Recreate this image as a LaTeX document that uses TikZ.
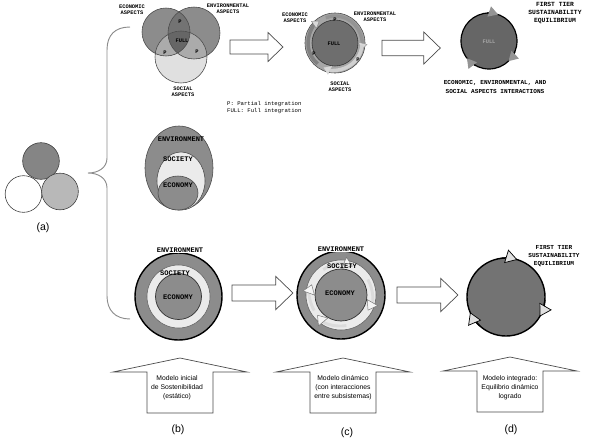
\documentclass[tikz,border=0pt]{standalone}
\usepackage{fontspec}
\setmainfont{Liberation Sans}
\setmonofont{Liberation Mono}
\usetikzlibrary{arrows.meta,calc}

\tikzset{
  ball/.style={circle, draw=black!75, line width=0.5pt, minimum size=1.1cm, inner sep=0pt},
  tag/.style={font=\ttfamily\bfseries\fontsize{4.6}{5.4}\selectfont, align=center, inner sep=0pt},
  bigtag/.style={font=\ttfamily\bfseries\fontsize{6}{7}\selectfont, inner sep=0pt},
  note/.style={font=\ttfamily\fontsize{4.8}{6}\selectfont, align=left, anchor=west, inner sep=0pt},
  caption/.style={font=\fontsize{5.8}{7.6}\selectfont, align=center, inner sep=0pt},
  letter/.style={font=\fontsize{9}{10}\selectfont, inner sep=0pt},
  rim/.style={draw=black!70, line width=0.5pt},
  blockarrow/.style={draw=black!70, fill=white, line width=0.6pt},
  swirl/.style={line width=3pt, -{Triangle[length=6pt, width=8pt, fill=black!15, line width=0.3pt]}},
  rarrow/.pic={\draw[blockarrow] (0,-7) -- (38,-7) -- (38,-14.5) -- (53,0) -- (38,14.5) -- (38,7) -- (0,7) -- cycle;},
  uarrow/.pic={\draw[blockarrow] (0,0) -- (67,14) -- (33,14) -- (33,55) -- (-33,55) -- (-33,14) -- (-67,14) -- cycle;}
}

\begin{document}
\begin{tikzpicture}[x=0.03cm, y=-0.03cm]
  \useasboundingbox (0,0) rectangle (590,443);

  % (a) three subsystems
  \node[ball, fill=black!48] (ballTop) at (41,161) {};
  \node[ball, fill=white] (ballLeft) at (23.5,194) {};
  \node[ball, fill=black!28] (ballRight) at (60,191.5) {};
  \node[letter] (labA) at (43,228) {(a)};

  % brace
  \draw[black!45, line width=0.8pt] (130,27) .. controls (115,27) and (107,35) .. (107,50) -- (107,158)
    .. controls (107,168) and (98,173) .. (88,173) .. controls (98,173) and (107,178) .. (107,188)
    -- (107,296) .. controls (107,310) and (115,319) .. (130,319);

  % row 1: static Venn diagram
  \coordinate (ecoV) at (166,32);
  \coordinate (envV) at (194,33);
  \coordinate (socV) at (181,57);
  \fill[black!12] (socV) circle (26);
  \fill[black!45] (ecoV) circle (24);
  \fill[black!45] (envV) circle (26);
  \begin{scope}
    \clip (ecoV) circle (24);
    \fill[black!55] (envV) circle (26);
  \end{scope}
  \begin{scope}
    \clip (socV) circle (26);
    \fill[black!33] (ecoV) circle (24);
    \fill[black!33] (envV) circle (26);
    \clip (ecoV) circle (24);
    \fill[black!60] (envV) circle (26);
  \end{scope}
  \draw[rim] (socV) circle (26) (ecoV) circle (24) (envV) circle (26);
  \node[tag] (ecoTxt) at (132,10) {ECONOMIC\\ASPECTS};
  \node[tag] (envTxt) at (228,9) {ENVIRONMENTAL\\ASPECTS};
  \node[tag] (socTxt) at (183,92) {SOCIAL\\ASPECTS};
  \node[tag] (pTop) at (180,22) {P};
  \node[tag] (pLeft) at (165,53) {P};
  \node[tag] (pRight) at (197,52) {P};
  \node[tag] (fullV) at (182,41) {FULL};
  \node[note] (legend) at (227,108) {P: Partial integration\\FULL: Full integration};

  \pic at (230,47) {rarrow};

  % row 1: dynamic Venn diagram
  \coordinate (dynT) at (335,43);
  \filldraw[fill=black!35, rim] (dynT) circle (30);
  \filldraw[fill=black!57, draw=black!80, line width=0.5pt] (dynT) circle (23);
  \draw[swirl, black!50] ($(dynT)+(130:27)$) arc[start angle=130, end angle=235, radius=27];
  \draw[swirl, black!42] ($(dynT)+(250:27)$) arc[start angle=250, end angle=375, radius=27];
  \draw[swirl, black!18] ($(dynT)+(5:27)$) arc[start angle=5, end angle=115, radius=27];
  \node[tag] (fullD) at (334,44) {FULL};
  \node[tag] (pD1) at (335,20) {P};
  \node[tag] (pD2) at (314,54) {P};
  \node[tag] (pD3) at (358,60) {P};
  \node[tag] (ecoTxtD) at (295,18) {ECONOMIC\\ASPECTS};
  \node[tag] (envTxtD) at (375,17) {ENVIRONMENTAL\\ASPECTS};
  \node[tag] (socTxtD) at (340,87) {SOCIAL\\ASPECTS};

  \pic[scale=1.1] at (382,48) {rarrow};

  % row 1: equilibrium
  \coordinate (eqT) at (489,41);
  \filldraw[fill=black!60, draw=black, line width=1pt] (eqT) circle (28);
  \foreach \s/\e in {265/289, 118/142, 22/46}
    \draw[line width=1pt, -{Triangle[length=8pt, width=9pt, fill=black!42, color=black!42]}]
      ($(eqT)+(\s:28)$) arc[start angle=\s, end angle=\e, radius=28];
  \node[tag, text=black!35] (fullE) at (489,42) {FULL};
  \node[tag, font=\ttfamily\bfseries\fontsize{5.4}{6.6}\selectfont] (tierT) at (555,13) {FIRST TIER\\SUSTAINABILITY\\EQUILIBRIUM};
  \node[tag, font=\ttfamily\bfseries\fontsize{5.2}{7.4}\selectfont] (interT) at (495,87) {ECONOMIC, ENVIRONMENTAL, AND\\SOCIAL ASPECTS INTERACTIONS};

  % row 2: nested subsystems
  \filldraw[fill=black!45, rim] (179,168) ellipse [x radius=34, y radius=42];
  \filldraw[fill=black!8, rim] (181,181) ellipse [x radius=24, y radius=29];
  \filldraw[fill=black!45, rim] (178,193) ellipse [x radius=20, y radius=17];
  \node[bigtag] (envN) at (181,139) {ENVIRONMENT};
  \node[bigtag] (socN) at (178,159) {SOCIETY};
  \node[bigtag] (ecoN) at (178,185) {ECONOMY};

  % row 3: initial model
  \coordinate (iniB) at (178.5,296.5);
  \filldraw[fill=black!45, draw=black, line width=1.2pt] (iniB) circle (43.5);
  \filldraw[fill=black!8, draw=black!60, line width=0.5pt] (iniB) circle (31.5);
  \filldraw[fill=black!45, draw=black!80, line width=0.6pt] (iniB) circle (23);
  \node[bigtag, fill=white, inner sep=0.5pt] (envB) at (180,250) {ENVIRONMENT};
  \node[bigtag] (socB) at (175,273) {SOCIETY};
  \node[bigtag] (ecoB) at (178,297) {ECONOMY};

  \pic[scale=1.15] at (232,293) {rarrow};

  % row 3: dynamic model
  \coordinate (dynE) at (341,295);
  \filldraw[fill=black!45, draw=black, line width=1.2pt] (dynE) circle (44);
  \filldraw[fill=black!8, draw=black!60, line width=0.5pt] (dynE) circle (35);
  \filldraw[fill=black!45, draw=black!80, line width=0.6pt] (dynE) circle (26);
  \foreach \s/\e in {235/292, 330/390, 80/140, 150/200}
    \draw[line width=2.5pt, black!14, -{Triangle[length=8pt, width=11pt, fill=black!4, color=black!55, line width=0.4pt]}]
      ($(dynE)+(\s:31)$) arc[start angle=\s, end angle=\e, radius=31];
  \node[bigtag, fill=white, inner sep=0.5pt] (envE) at (341,249) {ENVIRONMENT};
  \node[bigtag] (socE) at (342,266) {SOCIETY};
  \node[bigtag] (ecoE) at (340,293) {ECONOMY};

  \pic[scale=1.15] at (397,295) {rarrow};

  % row 3: equilibrium reached
  \coordinate (eqB) at (506,297);
  \filldraw[fill=black!55, draw=black, line width=1.2pt] (eqB) circle (39);
  \foreach \s/\e in {262/287, 132/157, 5/30}
    \draw[line width=1.2pt, -{Triangle[length=10pt, width=12pt, fill=black!12, line width=0.6pt]}]
      ($(eqB)+(\s:39)$) arc[start angle=\s, end angle=\e, radius=39];
  \node[tag, font=\ttfamily\bfseries\fontsize{5.2}{6.6}\selectfont] (tierB) at (554,256) {FIRST TIER\\SUSTAINABILITY\\EQUILIBRIUM};

  % bottom: model stages
  \pic at (180,358) {uarrow};
  \pic at (343,358) {uarrow};
  \pic at (510,357) {uarrow};
  \node[caption] (capB) at (177,388) {Modelo inicial\\de Sostenibilidad\\(estático)};
  \node[caption] (capC) at (343,388) {Modelo dinámico\\(con interacciones\\entre subsistemas)};
  \node[caption] (capD) at (510,388) {Modelo integrado:\\Equilibrio dinámico\\logrado};
  \node[letter] (labB) at (178,430) {(b)};
  \node[letter] (labC) at (347,433) {(c)};
  \node[letter] (labD) at (511,430) {(d)};
\end{tikzpicture}
\end{document}
